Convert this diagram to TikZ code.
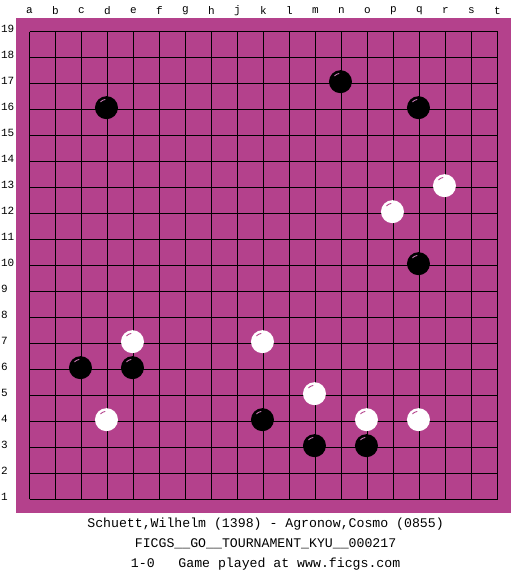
\documentclass[tikz,border=0pt]{standalone}
\usepackage{fontspec}
\newfontfamily\boardfont{Liberation Mono}
\definecolor{boardbg}{RGB}{180,65,140}
\definecolor{shine}{RGB}{200,120,180}

\begin{document}
\begin{tikzpicture}[
x=26pt,y=26pt,
lbl/.style={font=\boardfont\fontsize{11}{11}\selectfont,inner sep=0pt},
caption/.style={font=\boardfont\fontsize{13.2}{13.2}\selectfont,inner sep=0pt},
blackstone/.style={circle,fill=black,minimum size=23pt,inner sep=0pt},
whitestone/.style={circle,fill=white,minimum size=23pt,inner sep=0pt},
glint/.style={line width=0.9pt,line cap=round}]
\useasboundingbox (-1.135,-2.904) rectangle (19.058,19.212);
\fill[boardbg] (-0.52,-0.51) rectangle (18.52,18.52);
\foreach \k in {0,...,18}{
  \draw[line width=0.9pt] (\k,0) -- (\k,18);
  \draw[line width=0.9pt] (0,\k) -- (18,\k);
}
% coordinates
\foreach \c [count=\i from 0] in {a,b,c,d,e,f,g,h,j,k,l,m,n,o,p,q,r,s,t}
  \node[lbl] (col-\c) at (\i,18.79) {\c};
\foreach \r in {1,...,19}
  \node[lbl,anchor=west] (row-\r) at (-1.1,\r-0.9) {\r};
% stones
\foreach \name/\x/\y in {d16/3/15,n17/12/16,q16/15/15,q10/15/9,c6/2/5,e6/4/5,k4/9/3,m3/11/2,o3/13/2}{
  \node[blackstone] (b-\name) at (\x-0.04,\y+0.07) {};
  \draw[glint,shine] (b-\name.center) ++(100:0.32) arc (100:135:0.32);
}
\foreach \name/\x/\y in {r13/16/12,p12/14/11,e7/4/6,k7/9/6,m5/11/4,d4/3/3,o4/13/3,q4/15/3}{
  \node[whitestone] (w-\name) at (\x-0.04,\y+0.07) {};
  \draw[glint,boardbg] (w-\name.center) ++(100:0.32) arc (100:135:0.32);
}
% game info
\node[caption] (players) at (9.08,-0.942) {Schuett,Wilhelm (1398) - Agronow,Cosmo (0855)};
\node[caption] (event) at (9.08,-1.712) {FICGS\_\_GO\_\_TOURNAMENT\_KYU\_\_000217};
\node[caption] (result) at (9.08,-2.481) {1-0~~~Game played at www.ficgs.com};
\end{tikzpicture}
\end{document}
